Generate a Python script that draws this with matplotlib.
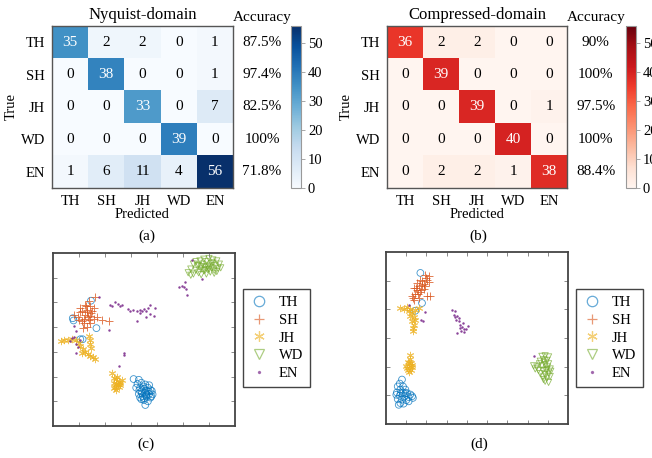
import numpy as np
import matplotlib
matplotlib.use("Agg")
import matplotlib.pyplot as plt
from matplotlib.lines import Line2D

plt.rcParams['font.family'] = ['Liberation Serif', 'DejaVu Serif']
plt.rcParams['font.size'] = 10.5

classes = ["TH", "SH", "JH", "WD", "EN"]

# confusion matrices (rows = true, cols = predicted)
cm_nyquist = np.array([[35, 2, 2, 0, 1],
                       [0, 38, 0, 0, 1],
                       [0, 0, 33, 0, 7],
                       [0, 0, 0, 39, 0],
                       [1, 6, 11, 4, 56]])
acc_nyquist = ["87.5%", "97.4%", "82.5%", "100%", "71.8%"]

cm_compressed = np.array([[36, 2, 2, 0, 0],
                          [0, 39, 0, 0, 0],
                          [0, 0, 39, 0, 1],
                          [0, 0, 0, 40, 0],
                          [0, 2, 2, 1, 38]])
acc_compressed = ["90%", "100%", "97.5%", "100%", "88.4%"]

# t-SNE embedding, Nyquist-domain features (c)
tsne_c_TH = np.array([
    (31, 19), (33, 18.7), (32.5, 17), (34, 17.5), (35.5, 16.8), (33.5, 15.5), (35, 15),
    (36.5, 15.5), (37.5, 14.5), (34, 14), (35.5, 13.5), (37, 13), (38.3, 12.8), (33, 13),
    (34.5, 12), (36, 11.8), (37.5, 11.5), (35, 10.5), (36.5, 10), (34, 10.8), (35.5, 8.5),
    (38, 14.2), (36, 14.2), (33.5, 11.5), (37, 16.5), (32, 15.5), (36, 12.8), (34.8, 16),
    (35.8, 12.2), (34.2, 13.2), (36.8, 14.0), (33.2, 14.5), (37.8, 12.0), (35.0, 11.2),
    (7.6, 43.6), (7.9, 42.7), (11.4, 35.1), (16.7, 39.6), (14.6, 50.7), (10.5, 35.1)])
tsne_c_SH = np.array([
    (12.4, 49.1), (14.1, 48.4), (13.1, 47.0), (11.2, 46.4), (15.0, 46.4), (12.4, 45.0),
    (14.4, 44.6), (9.9, 43.0), (13.7, 43.0), (15.6, 43.2), (18.8, 43.0), (21.4, 42.3),
    (11.8, 41.6), (14.4, 41.6), (11.5, 39.6), (13.1, 40.0), (9.5, 44.3), (16.9, 44.3),
    (10.5, 47.7), (15.6, 47.7), (13.7, 50.4), (16.3, 52.2), (7.9, 45.0), (12.1, 43.2),
    (12.8, 48.4), (12.9, 46.0), (14.8, 45.6), (11.0, 42.5), (13.4, 44.0), (10.3, 46.0)])
tsne_c_JH = np.array([
    (3.1, 34.2), (4.4, 34.9), (5.6, 34.6), (7.3, 35.1), (9.0, 34.9), (13.7, 36.5),
    (14.1, 34.9), (14.4, 33.2), (14.6, 31.5), (10.5, 32.4), (11.5, 31.1), (12.4, 30.1),
    (13.3, 29.2), (14.4, 28.4), (15.4, 27.8), (16.0, 27.3), (9.9, 33.5), (11.2, 29.5),
    (22.7, 21.4), (23.3, 19.3), (24.4, 18.9), (25.3, 18.0), (23.6, 17.6), (24.9, 17.0),
    (25.9, 17.6), (24.0, 15.9), (25.3, 15.7), (24.4, 14.6), (26.5, 18.6), (24.6, 20.0),
    (23.6, 15.3), (25.6, 16.5), (24.1, 16.8)])
tsne_c_WD = np.array([
    (52, 62), (53, 63.5), (54, 61.5), (55, 63), (55.5, 64.8), (56, 62), (57, 63.5),
    (57.5, 65.5), (58, 62.8), (58.5, 64.2), (59, 66.5), (59.5, 63.3), (60, 65), (60.5, 62.3),
    (61, 64), (61.5, 66), (62, 63), (62.5, 64.8), (63, 66.8), (63.5, 63.8), (64, 65.5),
    (56.5, 66.8), (58, 67.5), (60, 67.8), (61.5, 67.2), (54, 65.5), (53, 61), (57, 61.2),
    (59, 61.5), (62, 61.8), (63, 62.5), (55, 66.5), (60, 63.5), (58.5, 63), (57, 64.5),
    (61, 65.8), (64.5, 64), (56, 65), (59.5, 64.5)])
tsne_c_EN = np.array([
    (21.8, 49.1), (22.7, 48.6), (24.0, 50.0), (24.9, 49.5), (25.6, 48.4), (26.5, 48.8),
    (28.7, 47.3), (30.8, 46.8), (32.3, 46.4), (33.3, 47.0), (34.2, 46.6), (35.1, 47.3),
    (35.9, 46.4), (36.4, 47.7), (37.4, 49.1), (39.4, 47.7), (37.2, 45.4), (38.7, 44.6),
    (32.3, 42.3), (35.9, 44.1), (33.6, 45.7), (29.7, 46.6), (48.3, 56.2), (49.6, 56.5),
    (50.5, 56.1), (51.3, 55.4), (51.5, 53.1), (50.9, 58.1), (57.3, 59.5), (53.6, 67.0),
    (7.9, 40.5), (8.7, 38.5), (7.3, 35.5), (6.4, 34.2), (9.0, 33.2), (9.5, 31.9),
    (9.0, 29.5), (21.4, 38.9), (17.6, 52.2), (10.5, 34.9), (7.9, 36.2), (27.2, 29.7),
    (27.2, 28.8), (25.5, 24.1)])

# t-SNE embedding, compressed-domain features (d)
tsne_d_TH = np.array([
    (7.9, 15.5), (6.8, 14.1), (5.8, 13.1), (8.4, 13.1), (7.1, 12.0), (9.6, 12.0),
    (5.4, 11.0), (8.4, 11.0), (10.4, 10.8), (12.9, 9.7), (6.8, 9.9), (9.1, 9.7),
    (11.2, 9.4), (5.8, 8.7), (7.9, 8.5), (10.0, 8.3), (7.1, 7.3), (8.7, 7.1), (6.3, 6.7),
    (13.3, 9.1), (12.0, 10.3), (7.4, 10.7), (9.6, 10.7), (5.1, 10.2), (11.2, 7.9),
    (17.0, 52.7), (17.8, 42.2), (14.5, 39.5)])
tsne_d_SH = np.array([
    (19.4, 52.1), (21.1, 51.7), (20.3, 50.3), (17.8, 49.8), (15.3, 49.2), (21.1, 49.4),
    (16.1, 48.0), (13.7, 47.4), (18.6, 47.1), (15.3, 46.6), (17.0, 45.9), (14.5, 45.5),
    (12.9, 44.5), (20.3, 44.8), (21.9, 44.5), (16.1, 44.0), (14.0, 43.4), (17.8, 48.6),
    (19.4, 48.0), (15.0, 47.4), (16.6, 50.3), (17.2, 46.8), (18.8, 49.0), (15.8, 45.2),
    (13.5, 44.0), (19.8, 51.0)])
tsne_d_JH = np.array([
    (7.1, 40.5), (8.7, 40.2), (10.4, 40.7), (11.9, 40.1), (14.5, 39.9), (16.1, 40.5),
    (12.9, 38.7), (13.7, 37.3), (12.9, 35.8), (13.7, 34.7), (13.2, 33.5), (13.3, 32.3),
    (11.9, 37.7), (14.2, 36.4), (11.2, 39.3), (11.7, 24.2), (11.7, 22.7), (10.7, 21.5),
    (12.4, 21.3), (10.1, 20.3), (11.7, 20.1), (13.0, 19.9), (10.9, 19.0), (12.4, 18.7),
    (11.4, 18.0), (10.4, 19.5), (12.9, 20.7), (11.2, 21.2)])
tsne_d_WD = np.array([
    (77.1, 23.6), (78.7, 23.8), (80.4, 23.4), (77.9, 22.4), (79.6, 22.2), (76.3, 21.9),
    (73.0, 20.3), (74.6, 19.9), (77.1, 20.3), (78.7, 20.7), (80.4, 21.0), (75.4, 18.7),
    (77.6, 18.7), (79.6, 19.0), (81.2, 19.2), (76.3, 17.6), (78.7, 17.2), (80.4, 17.8),
    (77.6, 16.4), (79.6, 16.0), (81.2, 16.6), (78.7, 14.9), (80.4, 14.5), (73.8, 19.2),
    (75.9, 21.0), (78.2, 21.5), (79.9, 19.9), (81.5, 18.4), (77.9, 15.5), (79.2, 18.6)])
tsne_d_EN = np.array([
    (32.8, 39.7), (34.3, 39.3), (33.4, 38.1), (35.1, 37.6), (34.8, 36.4), (35.9, 35.8),
    (36.7, 34.7), (37.6, 33.8), (36.4, 33.5), (38.4, 33.1), (39.7, 33.1), (38.7, 32.0),
    (35.1, 31.7), (40.4, 34.3), (37.1, 32.6), (35.9, 37.0), (38.1, 35.3), (34.1, 37.4),
    (19.4, 39.1), (17.3, 36.4), (18.3, 35.8), (11.2, 41.6), (73.0, 23.6)])

colors = {"TH": "#0072BD", "SH": "#D95319", "JH": "#EDB120", "WD": "#77AC30", "EN": "#7E2F8E"}

W, H = 652, 458
fig = plt.figure(figsize=(W / 100, H / 100), dpi=100)


def px_axes(x0, y0, x1, y1):
    return fig.add_axes([x0 / W, 1 - y1 / H, (x1 - x0) / W, (y1 - y0) / H])


def draw_cm(ax, cax, cm, acc, cmap, title):
    im = ax.imshow(cm, cmap=cmap, vmin=0, vmax=56, aspect='auto')
    for i in range(5):
        for j in range(5):
            v = cm[i, j]
            ax.text(j, i, str(v), ha='center', va='center', fontsize=11,
                    color='white' if v > 25 else 'black')
    ax.set_xticks(range(5))
    ax.set_xticklabels(classes)
    ax.set_yticks(range(5))
    ax.set_yticklabels(classes)
    ax.tick_params(length=0, pad=5)
    ax.set_xlabel("Predicted", labelpad=0)
    ax.set_ylabel("True", labelpad=2)
    ax.text(2, -0.72, title, ha='center', va='baseline', fontsize=12)
    ax.text(5.3, -0.65, "Accuracy", ha='center', va='baseline', fontsize=11, clip_on=False)
    for i, a in enumerate(acc):
        ax.text(5.3, i, a, ha='center', va='center', fontsize=11, clip_on=False)
    for s in ax.spines.values():
        s.set_color('#555555')
        s.set_linewidth(1.0)
    cb = fig.colorbar(im, cax=cax)
    cb.set_ticks([0, 10, 20, 30, 40, 50])
    cb.outline.set_edgecolor('#999999')
    cb.outline.set_linewidth(0.8)
    cax.tick_params(length=3, width=0.6, color='#999999', pad=2)


def draw_tsne(ax, data, xlim, ylim, legend_pos):
    styles = {"TH": dict(marker='o', facecolors='none', s=24),
              "SH": dict(marker='+', s=40),
              "JH": dict(marker=(6, 2, 0), s=22),
              "WD": dict(marker='v', facecolors='none', s=20),
              "EN": dict(marker='.', s=5)}
    handles = []
    for name in classes:
        pts = data[name]
        st = styles[name]
        if st.get('facecolors') == 'none':
            ax.scatter(pts[:, 0], pts[:, 1], edgecolors=colors[name], linewidths=0.6,
                       alpha=0.75, **st)
        else:
            ax.scatter(pts[:, 0], pts[:, 1], c=colors[name], linewidths=0.7,
                       alpha=0.75, **st)
        handles.append(Line2D([], [], linestyle='none', marker=st['marker'],
                              color=colors[name],
                              markersize=7.5 if name != "EN" else 3,
                              markerfacecolor='none' if name in ("TH", "WD") else colors[name],
                              markeredgecolor=colors[name], markeredgewidth=0.9,
                              alpha=0.6, label=name))
    ax.set_xlim(*xlim)
    ax.set_ylim(*ylim)
    ax.set_xticks(np.arange(xlim[0] + 10, xlim[1], 10))
    ax.set_yticks(np.arange(ylim[0] + 10, ylim[1], 10))
    ax.tick_params(direction='in', length=3, width=0.6, color='#777777',
                   top=True, right=True, labelbottom=False, labelleft=False)
    for s in ax.spines.values():
        s.set_color('#444444')
        s.set_linewidth(1.3)
    leg = ax.legend(handles=handles, loc='upper left', bbox_to_anchor=legend_pos,
                    bbox_transform=fig.transFigure, fancybox=False, framealpha=1,
                    edgecolor='#444444', borderpad=0.45, labelspacing=0.32,
                    handlelength=1.3, handletextpad=0.7, borderaxespad=0)
    leg.get_frame().set_linewidth(1.0)


# (a) Nyquist-domain confusion matrix
ax_a = px_axes(52, 26, 233, 188)
cax_a = px_axes(291, 26, 301, 188)
draw_cm(ax_a, cax_a, cm_nyquist, acc_nyquist, 'Blues', "Nyquist-domain")

# (b) compressed-domain confusion matrix
ax_b = px_axes(387, 26, 567, 188)
cax_b = px_axes(626, 26, 636, 188)
draw_cm(ax_b, cax_b, cm_compressed, acc_compressed, 'Reds', "Compressed-domain")

# (c) t-SNE Nyquist
ax_c = px_axes(53, 253, 235, 426)
draw_tsne(ax_c, {"TH": tsne_c_TH, "SH": tsne_c_SH, "JH": tsne_c_JH,
                 "WD": tsne_c_WD, "EN": tsne_c_EN},
          (0, 70), (0, 70), (243 / W, 1 - 289 / H))

# (d) t-SNE compressed
ax_d = px_axes(386, 252, 568, 424)
draw_tsne(ax_d, {"TH": tsne_d_TH, "SH": tsne_d_SH, "JH": tsne_d_JH,
                 "WD": tsne_d_WD, "EN": tsne_d_EN},
          (0, 90), (0, 60), (576 / W, 1 - 289 / H))

for lbl, x, y in [("(a)", 147, 236), ("(b)", 478, 236), ("(c)", 146, 444), ("(d)", 479, 444)]:
    fig.text(x / W, 1 - y / H, lbl, ha='center', va='center', fontsize=11)

fig.savefig("out.png", dpi=100)
